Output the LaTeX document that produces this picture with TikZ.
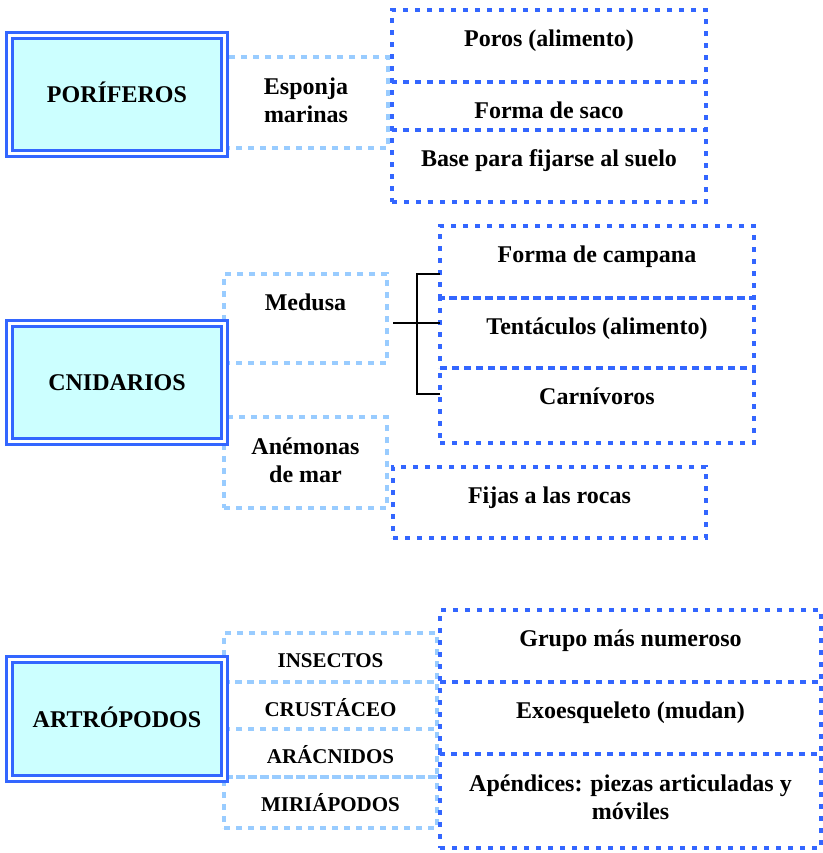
\documentclass[tikz,border=0pt]{standalone}
\usepackage{fontspec}
\setmainfont{Liberation Serif}
\usetikzlibrary{fit}

\definecolor{dotblue}{HTML}{3366FF}
\definecolor{paleblue}{HTML}{99CCFF}
\definecolor{groupcyan}{HTML}{CCFFFF}

\begin{document}
\begin{tikzpicture}[x=0.5pt,y=-0.5pt,
group/.style={draw=dotblue, double=white, double distance=1.5pt, line width=1.4pt, fill=groupcyan, inner sep=0pt, outer sep=0pt},
cell/.style={draw=dotblue, line width=2pt, dash pattern=on 2.5pt off 3.5pt, inner sep=0pt, outer sep=0pt},
kind/.style={draw=paleblue, line width=2.2pt, dash pattern=on 3.2pt off 2.8pt, inner sep=0pt, outer sep=0pt},
title/.style={label={[anchor=center, inner sep=0pt, text height=8pt, text depth=0pt, font=\bfseries\fontsize{12pt}{14pt}\selectfont]center:#1}},
txt/.style={label={[anchor=north, label distance=-10pt, inner sep=0pt, text height=8pt, font=\bfseries\fontsize{12pt}{14pt}\selectfont]north:#1}},
txttwo/.style={label={[anchor=north, label distance=-10pt, inner sep=0pt, align=center, font=\bfseries\fontsize{12pt}{14pt}\selectfont]north:#1}},
txtsmall/.style={label={[anchor=north, label distance=-10pt, inner sep=0pt, text height=7pt, font=\bfseries\fontsize{10.5pt}{12pt}\selectfont]north:#1}},
bracket/.style={draw=black, line width=0.8pt}]

\useasboundingbox (0,0) rectangle (823,853);

% poriferos
\node[kind, fit={(224,57) (388,148)}, txttwo={Esponja\\marinas}] (esponja) {};
\node[cell, fit={(392,10) (706,82)}, txt={Poros (alimento)}] (poros) {};
\node[cell, fit={(392,82) (706,130)}, txt={Forma de saco}] (saco) {};
\node[cell, fit={(392,130) (706,202)}, txt={Base para fijarse al suelo}] (base) {};
\node[group, fit={(9.5,35.5) (224.5,153.5)}, title={PORÍFEROS}] (poriferos) {};

% cnidarios
\node[kind, fit={(224,274) (387,363)}, txt={Medusa}] (medusa) {};
\node[kind, fit={(224,417) (387,508)}, txttwo={Anémonas\\de mar}] (anemonas) {};
\node[cell, fit={(440,226) (754,298)}, txt={Forma de campana}] (campana) {};
\node[cell, fit={(440,298) (754,368)}, txt={Tentáculos (alimento)}] (tentaculos) {};
\node[cell, fit={(440,368) (754,443)}, txt={Carnívoros}] (carnivoros) {};
\node[cell, fit={(393,467) (706,538)}, txt={Fijas a las rocas}] (fijas) {};
\node[group, fit={(9.5,323.5) (224.5,441.5)}, title={CNIDARIOS}] (cnidarios) {};

\coordinate (fork-top) at (417,274);
\coordinate (fork-bot) at (417,394);
\coordinate (fork-in) at (393,323);
\draw[bracket] (fork-top -| campana.west) -- (fork-top) -- (fork-bot) -- (fork-bot -| carnivoros.west);
\draw[bracket] (fork-in) -- (fork-in -| tentaculos.west);

% artropodos
\node[kind, fit={(224,633) (437,682)}, txtsmall={INSECTOS}] (insectos) {};
\node[kind, fit={(224,682) (437,729)}, txtsmall={CRUSTÁCEO}] (crustaceo) {};
\node[kind, fit={(224,729) (437,777)}, txtsmall={ARÁCNIDOS}] (aracnidos) {};
\node[kind, fit={(224,777) (437,828)}, txtsmall={MIRIÁPODOS}] (miriapodos) {};
\node[cell, fit={(440,610) (821,682)}, txt={Grupo más numeroso}] (grupo) {};
\node[cell, fit={(440,682) (821,754)}, txt={Exoesqueleto (mudan)}] (exoesqueleto) {};
\node[cell, fit={(440,754) (821,848)}, txttwo={Apéndices: piezas articuladas y\\móviles}] (apendices) {};
\node[group, fit={(9.5,659.5) (224.5,778.5)}, title={ARTRÓPODOS}] (artropodos) {};

\end{tikzpicture}
\end{document}
